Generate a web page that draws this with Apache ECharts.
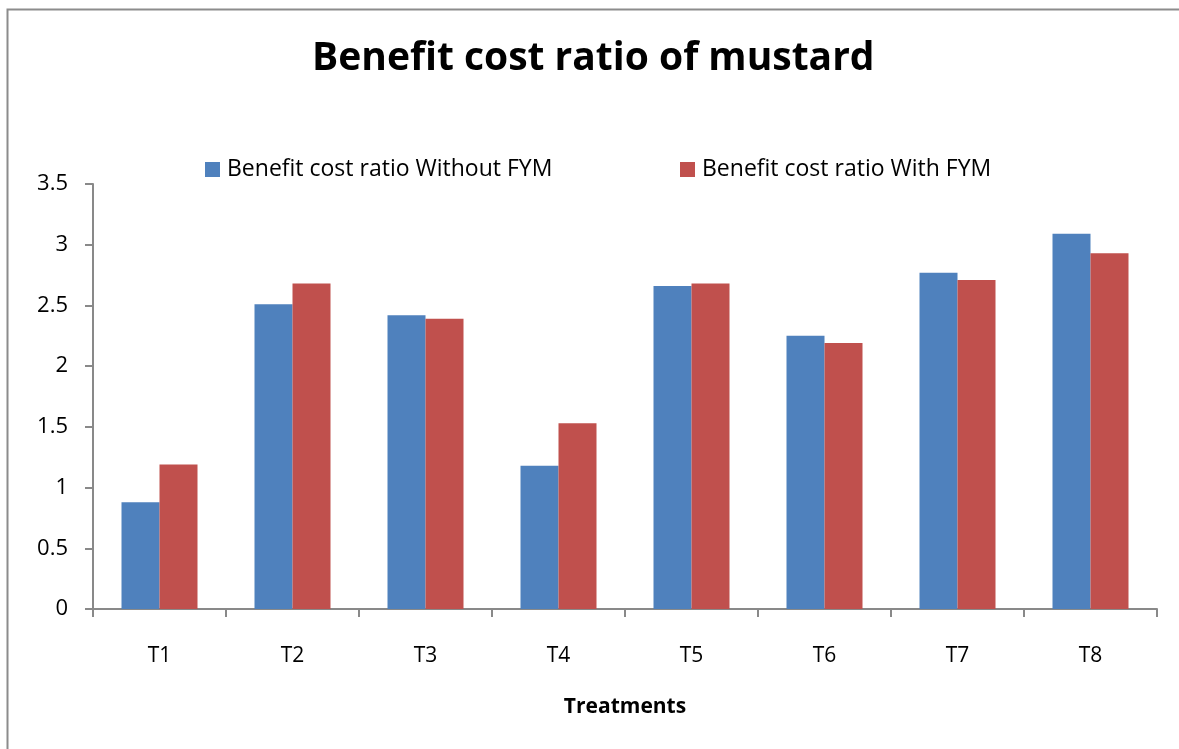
<!DOCTYPE html>
<html>
<head>
<meta charset="utf-8">
<script src="https://cdn.jsdelivr.net/npm/echarts@6/dist/echarts.min.js"></script>
<style>
  html, body { margin: 0; padding: 0; background: #fff; }
  #chart { width: 1179px; height: 749px; }
</style>
</head>
<body>
<div id="chart"></div>
<script>
const treatments = ["T1", "T2", "T3", "T4", "T5", "T6", "T7", "T8"];
const withoutFym = [0.88, 2.51, 2.42, 1.18, 2.66, 2.25, 2.77, 3.09];
const withFym = [1.19, 2.68, 2.39, 1.53, 2.68, 2.19, 2.71, 2.93];

const font = "'Open Sans', 'Noto Sans', sans-serif";
const axisGray = "#898989";

const chart = echarts.init(document.getElementById("chart"));

chart.setOption({
  animation: false,
  textStyle: { fontFamily: font },
  graphic: [
    {
      type: "rect",
      left: 5,
      top: 7,
      shape: { width: 1300, height: 900 },
      style: { fill: "none", stroke: "#8c8c8c", lineWidth: 2 },
      silent: true,
    },
  ],
  title: {
    text: "Benefit cost ratio of mustard",
    left: 307,
    top: 34,
    textStyle: { fontFamily: font, fontSize: 39, fontWeight: "bold", color: "#000" },
  },
  legend: [
    {
      data: ["Benefit cost ratio Without FYM"],
      left: 200,
      top: 153,
      icon: "rect",
      itemWidth: 15,
      itemHeight: 15,
      textStyle: { fontFamily: font, fontSize: 23, color: "#000", padding: [0, 0, 0, 2] },
    },
    {
      data: ["Benefit cost ratio With FYM"],
      left: 675,
      top: 153,
      icon: "rect",
      itemWidth: 15,
      itemHeight: 15,
      textStyle: { fontFamily: font, fontSize: 23, color: "#000", padding: [0, 0, 0, 2] },
    },
  ],
  grid: { left: 93, right: 22, top: 184, bottom: 140 },
  xAxis: {
    type: "category",
    data: treatments,
    name: "Treatments",
    nameLocation: "middle",
    nameGap: 88,
    nameTextStyle: { fontFamily: font, fontSize: 21, fontWeight: "bold", color: "#000" },
    axisLine: { lineStyle: { color: axisGray, width: 2 } },
    axisTick: { show: true, length: 8, lineStyle: { color: axisGray, width: 2 } },
    axisLabel: { color: "#000", fontSize: 21, margin: 37, fontFamily: font },
  },
  yAxis: {
    type: "value",
    min: 0,
    max: 3.5,
    interval: 0.5,
    axisLine: { show: true, lineStyle: { color: axisGray, width: 2 } },
    axisTick: { show: true, length: 8, lineStyle: { color: axisGray, width: 2 } },
    axisLabel: { color: "#000", fontSize: 22, margin: 25, fontFamily: font },
    splitLine: { show: false },
  },
  series: [
    {
      name: "Benefit cost ratio Without FYM",
      type: "bar",
      data: withoutFym,
      barWidth: 38,
      barGap: "0%",
      itemStyle: { color: "#4F81BD" },
    },
    {
      name: "Benefit cost ratio With FYM",
      type: "bar",
      data: withFym,
      barWidth: 38,
      itemStyle: { color: "#C0504D" },
    },
  ],
});
</script>
</body>
</html>
